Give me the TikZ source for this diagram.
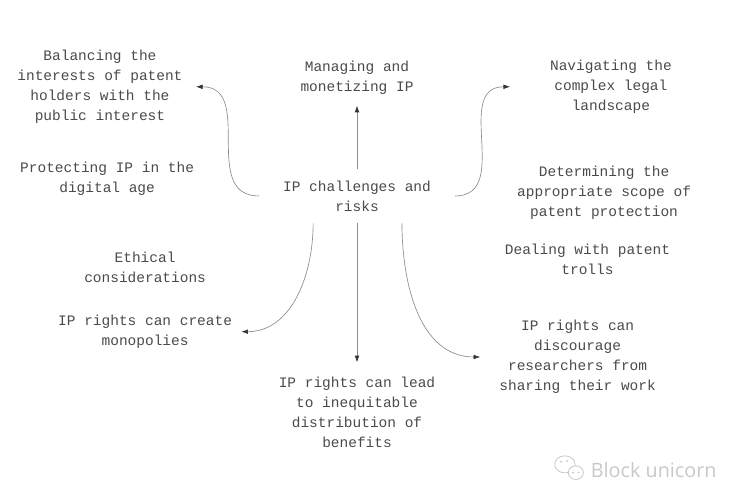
\documentclass[tikz,border=0pt]{standalone}
\usepackage{fontspec}
\usepackage{xcolor}
\usetikzlibrary{positioning, arrows.meta, shapes.geometric}
\newfontfamily\labelfont{Liberation Mono}
\newfontfamily\markfont{Open Sans}
\definecolor{inktext}{HTML}{4A4A4A}
\definecolor{inkline}{HTML}{8C8C8C}
\definecolor{inkmark}{HTML}{C8C8C8}

\begin{document}
\begin{tikzpicture}[
    txt/.style={align=center, text=inktext, font=\fontsize{10.9pt}{15pt}\labelfont, inner sep=0pt},
    wide/.style={txt, inner xsep=#1, inner ysep=3mm},
    link/.style={->, draw=inkline, line width=0.5pt},
    bubble/.style={ellipse, draw=inkmark, line width=0.6pt, fill=white, inner sep=0pt},
    eye/.style={circle, fill=inkmark, inner sep=0pt, minimum size=1.6pt},
    >={LaTeX[length=5pt,width=3.5pt,color=black!80]}
    ]
\useasboundingbox (-94.46mm,51.86mm) rectangle (105.04mm,-77.79mm);
\node[txt, inner xsep=6.3mm, inner ysep=3.1mm] (ip) {IP challenges and\\risks};

\node[wide=0mm, above=16.7mm of ip] (manage) {Managing and\\monetizing IP};
\node[wide=0mm, inner ysep=3.8mm, below=36.8mm of ip] (lead) {IP rights can lead\\to inequitable\\distribution of\\benefits};

\node[wide=3.5mm, left=16.7mm of ip, yshift=28.9mm] (balance) {Balancing the\\interests of patent\\holders with the\\public interest};
\node[wide=10.5mm, right=14.6mm of ip, yshift=28.9mm] (nav) {Navigating the\\complex legal\\landscape};
\node[wide=2.4mm, left=4.7mm of ip, yshift=-35.9mm] (monopoly) {IP rights can create\\monopolies};
\node[wide=5mm, right=6.7mm of ip, yshift=-42.6mm] (discourage) {IP rights can\\discourage\\researchers from\\sharing their work};

\node[txt, below=7.2mm of balance, xshift=1.9mm] (protect) {Protecting IP in the\\digital age};
\node[txt, above=5.3mm of monopoly] (ethics) {Ethical\\considerations};
\node[txt, below=10.7mm of nav, xshift=-1.8mm] (scope) {Determining the\\appropriate scope of\\patent protection};
\node[txt, above=8.9mm of discourage, xshift=2.6mm] (trolls) {Dealing with patent\\trolls};

\draw[link] (ip.north) to (manage.south);
\draw[link] (ip.south) to (lead.north);
\draw[link] (ip.west) to[out=180, in=0, looseness=1.2] (balance.east);
\draw[link] (ip.east) to[out=0, in=180, looseness=1.2] (nav.west);
\draw[link] ([xshift=-11.6mm]ip.south) to[out=-90, in=0] (monopoly.east);
\draw[link] ([xshift=11.9mm]ip.south) to[out=-90, in=180] (discourage.west);

\node[text=inkmark, font=\fontsize{14.9pt}{15pt}\markfont, inner sep=0pt, below right=72.5mm and 78.5mm of ip.center, anchor=center] (mark) {Block unicorn};
\node[bubble, minimum width=5.4mm, minimum height=4.5mm, left=4mm of mark, yshift=1.5mm] (chatA) {};
\node[bubble, minimum width=4mm, minimum height=3.6mm, left=1.8mm of mark, yshift=-0.7mm] (chatB) {};
\node[eye, xshift=-1mm, yshift=0.7mm] at (chatA) (eyeA) {};
\node[eye, xshift=0.6mm, yshift=0.9mm] at (chatA) (eyeD) {};
\node[eye, xshift=-0.7mm] at (chatB) (eyeB) {};
\node[eye, xshift=0.7mm] at (chatB) (eyeC) {};
\end{tikzpicture}
\end{document}
